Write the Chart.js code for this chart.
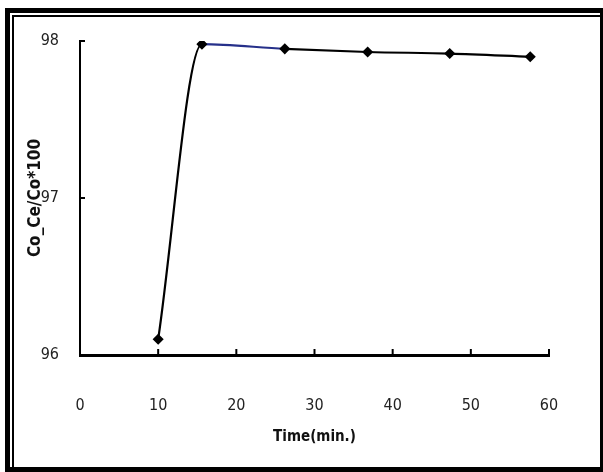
<!DOCTYPE html>
<html lang="en">
<head>
    <meta charset="UTF-8">
    <title>Removal vs time</title>
    <script src="https://cdn.jsdelivr.net/npm/chart.js"></script>
    <style>
        body {
            margin: 0;
            background-color: white;
            width: 603px;
            height: 472px;
            overflow: hidden;
            position: relative;
        }
        .frame {
            position: absolute;
            left: 5px;
            top: 8px;
            width: 590px;
            height: 454px;
            border-style: solid;
            border-color: black;
            border-width: 5px 3px 5px 5px;
        }
        .frame-inner {
            position: absolute;
            left: 2px;
            top: 2px;
            right: 0;
            bottom: 0;
            border-left: 2px solid black;
            border-top: 2px solid black;
        }
        #chart {
            position: absolute;
            left: 0;
            top: 0;
        }
    </style>
</head>
<body>
    <div class="frame"><div class="frame-inner"></div></div>
    <canvas id="chart" width="603" height="472"></canvas>

    <script>
        // values
        const timeMin = [10, 15.6, 26.2, 36.8, 47.3, 57.6];
        const removal = [96.1, 97.98, 97.95, 97.93, 97.92, 97.9];
        const xMin = 0, xMax = 60, xStep = 10;
        const yMin = 96, yMax = 98, yStep = 1;

        const family = "'DejaVu Sans Condensed', 'Liberation Sans Narrow', 'Liberation Sans', sans-serif";
        const tickFont = { family: family, size: 16 };
        const xTitleFont = { family: family, size: 15, weight: 'bold' };
        const yTitleFont = { family: family, size: 17, weight: 'bold' };

        // small inward tick marks like the printed axes
        const inwardTicks = {
            id: 'inwardTicks',
            afterDraw(chart) {
                const ctx = chart.ctx;
                const x = chart.scales.x, y = chart.scales.y;
                ctx.save();
                ctx.strokeStyle = 'black';
                ctx.lineWidth = 2;
                x.ticks.forEach(t => {
                    if (t.value === xMin) return;
                    const px = x.getPixelForValue(t.value);
                    ctx.beginPath();
                    ctx.moveTo(px, y.bottom);
                    ctx.lineTo(px, y.bottom - 6);
                    ctx.stroke();
                });
                y.ticks.forEach(t => {
                    if (t.value === yMin) return;
                    const py = y.getPixelForValue(t.value);
                    ctx.beginPath();
                    ctx.moveTo(x.left, py);
                    ctx.lineTo(x.left + 5, py);
                    ctx.stroke();
                });
                ctx.restore();
            }
        };

        new Chart(document.getElementById('chart'), {
            type: 'line',
            data: {
                datasets: [{
                    data: timeMin.map((t, i) => ({ x: t, y: removal[i] })),
                    borderColor: 'black',
                    borderWidth: 2.2,
                    cubicInterpolationMode: 'monotone',
                    pointStyle: 'rectRot',
                    pointRadius: 4,
                    pointBackgroundColor: 'black',
                    pointBorderColor: 'black',
                    segment: {
                        borderColor: c => c.p0DataIndex === 1 ? '#26308a' : 'black'
                    }
                }]
            },
            options: {
                responsive: false,
                animation: false,
                layout: { padding: { left: 22, top: 41, right: 54, bottom: 17 } },
                plugins: { legend: { display: false }, tooltip: { enabled: false } },
                scales: {
                    x: {
                        type: 'linear',
                        min: xMin,
                        max: xMax,
                        afterFit: s => { s.height = 100; },
                        grid: { display: false },
                        border: { display: true, color: 'black', width: 3 },
                        ticks: { stepSize: xStep, padding: 33, color: '#222', font: tickFont },
                        title: { display: true, text: 'Time(min.)', color: '#111', font: xTitleFont, padding: { top: 0, bottom: 9 } }
                    },
                    y: {
                        min: yMin,
                        max: yMax,
                        afterFit: s => { s.width = 58; },
                        grid: { display: false },
                        border: { display: true, color: 'black', width: 2 },
                        ticks: { stepSize: yStep, padding: 13, color: '#222', font: tickFont },
                        title: { display: true, text: 'Co_Ce/Co*100', color: '#111', font: yTitleFont, padding: { top: 3, bottom: 0 } }
                    }
                }
            },
            plugins: [inwardTicks]
        });
    </script>
</body>
</html>
